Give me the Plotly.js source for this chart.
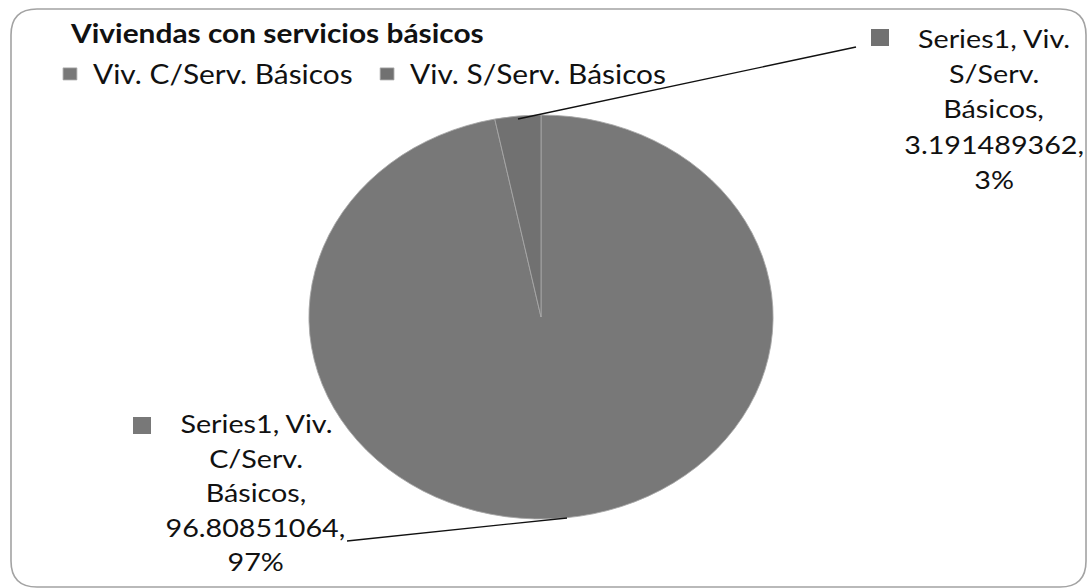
<!DOCTYPE html>
<html>
<head>
<meta charset="utf-8">
<script src="https://cdn.plot.ly/plotly-3.0.1.min.js"></script>
<style>
  html, body { margin: 0; padding: 0; background: #ffffff; overflow: hidden; }
  #chart { width: 947px; height: 588px; transform: scaleX(1.1489); transform-origin: 0 0; }
</style>
</head>
<body>
<div id="chart"></div>
<script>
// ---- Data ----
const chartTitle = 'Viviendas con servicios básicos';
const seriesName = 'Series1';
const categories = ['Viv. C/Serv. Básicos', 'Viv. S/Serv. Básicos'];
const values = [96.80851064, 3.191489362];
const percentLabels = ['97%', '3%'];

// ---- Styling ----
// The reference image is horizontally stretched; the plot is drawn at W_PLOT and
// stretched to the 1088px window with a CSS scaleX.
const W = 1088, H = 588, W_PLOT = 947;
const sliceColors = ['#787878', '#717171'];
const FONT = 'Lato, Open Sans, sans-serif';
const px = x => x / W;          // reference pixel -> paper fraction (x)
const py = y => 1 - y / H;      // reference pixel -> paper fraction (y)

// Build label lines from data
function labelLines(i) {
  const words = categories[i].split(' ');
  return [seriesName + ', ' + words[0], words[1], words[2] + ',', values[i] + ',', percentLabels[i]];
}

// Label placement (reference pixels)
const labelPos = [
  { cx: 256, y0: 423, dy: 34.6, box: [133, 417, 151, 434], line: [[567, 518], [347, 541]] },
  { cx: 994, y0: 38, dy: 35.2, box: [871, 29, 889, 46], line: [[518, 119], [856, 47]] }
];

const annotations = [];
const shapes = [];

// Rounded chart border
(function () {
  const x0 = 11, y0 = 9, x1 = 1086, y1 = 587, ry = 26, rx = 26;
  const d = [
    'M', px(x0 + rx), py(y0),
    'L', px(x1 - rx), py(y0),
    'Q', px(x1), py(y0), px(x1), py(y0 + ry),
    'L', px(x1), py(y1 - ry),
    'Q', px(x1), py(y1), px(x1 - rx), py(y1),
    'L', px(x0 + rx), py(y1),
    'Q', px(x0), py(y1), px(x0), py(y1 - ry),
    'L', px(x0), py(y0 + ry),
    'Q', px(x0), py(y0), px(x0 + rx), py(y0), 'Z'
  ].join(' ');
  shapes.push({ type: 'path', xref: 'paper', yref: 'paper', path: d,
    line: { color: '#a3a3a3', width: 1.4 }, fillcolor: 'rgba(0,0,0,0)', layer: 'below' });
})();

categories.forEach((c, i) => {
  const p = labelPos[i];
  labelLines(i).forEach((t, k) => {
    annotations.push({
      xref: 'paper', yref: 'paper', x: px(p.cx), y: py(p.y0 + k * p.dy),
      xanchor: 'center', yanchor: 'middle', showarrow: false,
      text: t, font: { family: FONT, size: 25, color: '#111111' }
    });
  });
  shapes.push({ type: 'rect', xref: 'paper', yref: 'paper',
    x0: px(p.box[0]), x1: px(p.box[2]), y0: py(p.box[1]), y1: py(p.box[3]),
    fillcolor: sliceColors[i], line: { width: 0 } });
  shapes.push({ type: 'line', xref: 'paper', yref: 'paper',
    x0: px(p.line[0][0]), y0: py(p.line[0][1]), x1: px(p.line[1][0]), y1: py(p.line[1][1]),
    line: { color: '#111111', width: 1.3 } });
});

// Pie placement (reference pixels): centre and vertical radius
const CX = 541, CY = 317, RY = 202, RX = RY * W / W_PLOT;

const trace = {
  type: 'pie',
  labels: categories,
  values: values,
  sort: false,
  direction: 'clockwise',
  rotation: 0,
  textinfo: 'none',
  hoverinfo: 'label+value+percent',
  marker: { colors: sliceColors, line: { color: '#a8a8a8', width: 0.8 } },
  domain: { x: [px(CX - RX), px(CX + RX)], y: [py(CY + RY), py(CY - RY)] },
  showlegend: true
};

const layout = {
  width: W_PLOT, height: H,
  margin: { l: 0, r: 0, t: 0, b: 0 },
  paper_bgcolor: '#ffffff',
  plot_bgcolor: '#ffffff',
  title: {
    text: '<b>' + chartTitle + '</b>',
    x: 71 / W, xanchor: 'left', xref: 'container',
    y: 1 - 34 / H, yanchor: 'middle', yref: 'container',
    font: { family: FONT, size: 26, color: '#111111' }
  },
  legend: {
    orientation: 'h',
    x: px(47), xanchor: 'left',
    y: py(74), yanchor: 'middle',
    font: { family: FONT, size: 26, color: '#111111' },
    itemwidth: 30,
    entrywidth: 231,
    entrywidthmode: 'pixels',
    traceorder: 'normal',
    bgcolor: 'rgba(0,0,0,0)'
  },
  annotations: annotations,
  shapes: shapes
};

Plotly.newPlot('chart', [trace], layout, { displayModeBar: false, staticPlot: true });
</script>
</body>
</html>
